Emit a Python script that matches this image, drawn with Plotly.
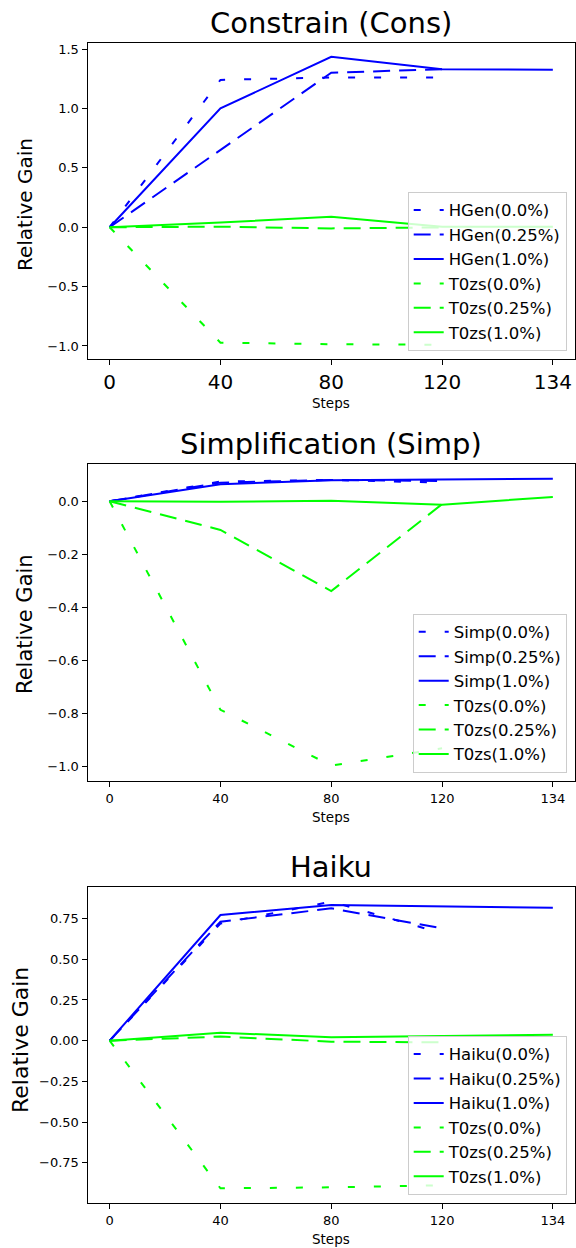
import plotly.graph_objects as go

W, H = 576, 1248
steps = ["0", "40", "80", "120", "134"]

# Panel 1: Constrain (Cons)
cons_hgen_00 = [0.0, 1.24, 1.26, 1.26]
cons_hgen_025 = [0.0, 0.65, 1.30, 1.33]
cons_hgen_10 = [0.0, 1.00, 1.435, 1.33, 1.325]
cons_t0_00 = [0.0, -0.972, -0.985, -0.99]
cons_t0_025 = [0.0, 0.004, -0.01, -0.002]
cons_t0_10 = [0.0, 0.04, 0.087, 0.004, 0.004]

# Panel 2: Simplification (Simp)
simp_simp_00 = [0.0, 0.074, 0.080, 0.070]
simp_simp_025 = [0.0, 0.070, 0.080, 0.076]
simp_simp_10 = [0.0, 0.064, 0.079, 0.083, 0.085]
simp_t0_00 = [0.0, -0.785, -0.995, -0.93]
simp_t0_025 = [0.0, -0.108, -0.338, -0.011]
simp_t0_10 = [0.0, -0.002, 0.002, -0.013, 0.016]

# Panel 3: Haiku
haiku_haiku_00 = [0.0, 0.72, 0.854, 0.66]
haiku_haiku_025 = [0.0, 0.731, 0.813, 0.69]
haiku_haiku_10 = [0.0, 0.772, 0.834, 0.824, 0.817]
haiku_t0_00 = [0.0, -0.907, -0.901, -0.888]
haiku_t0_025 = [0.0, 0.025, -0.006, -0.01]
haiku_t0_10 = [0.0, 0.049, 0.021, 0.029, 0.037]

pct_labels = ["0.0%", "0.25%", "1.0%"]

BLUE = "#0000ff"
GREEN = "#00ff00"
DASHES = ["7px,19px", "17px,9px", "solid"]
FONT = "DejaVu Sans"

panels = [
    dict(title="Constrain (Cons)", name="HGen",
         series=[cons_hgen_00, cons_hgen_025, cons_hgen_10],
         t0=[cons_t0_00, cons_t0_025, cons_t0_10],
         top=42.7, bot=359.3, yr=[-1.112, 1.553], dtick=0.5, fmt=".1f",
         xtickfont=20, steps_y=402.5, ylab_y=205, ylab_x=25, ylab_size=20),
    dict(title="Simplification (Simp)", name="Simp",
         series=[simp_simp_00, simp_simp_025, simp_simp_10],
         t0=[simp_t0_00, simp_t0_025, simp_t0_10],
         top=464.3, bot=781.0, yr=[-1.053, 0.139], dtick=0.2, fmt=".1f",
         xtickfont=13, steps_y=817.5, ylab_y=624, ylab_x=25, ylab_size=21),
    dict(title="Haiku", name="Haiku",
         series=[haiku_haiku_00, haiku_haiku_025, haiku_haiku_10],
         t0=[haiku_t0_00, haiku_t0_025, haiku_t0_10],
         top=886.7, bot=1203.3, yr=[-0.999, 0.946], dtick=0.25, fmt=".2f",
         xtickfont=13, steps_y=1239, ylab_y=1040, ylab_x=20, ylab_size=22),
]

XL, XR = 87.5, 575.0

fig = go.Figure()
annotations = []
layout = dict(width=W, height=H, margin=dict(l=0, r=0, t=0, b=0),
              paper_bgcolor="white", plot_bgcolor="white",
              font=dict(family=FONT, color="black"), showlegend=True)

for i, p in enumerate(panels):
    k = "" if i == 0 else str(i + 1)
    xa, ya = "x" + k, "y" + k
    leg = "legend" + k
    for j, vals in enumerate(p["series"]):
        fig.add_trace(go.Scatter(x=steps[:len(vals)], y=vals, mode="lines",
                                 name=f"{p['name']}({pct_labels[j]})",
                                 line=dict(color=BLUE, width=2, dash=DASHES[j]),
                                 xaxis=xa, yaxis=ya, legend=leg,
                                 legendgroup=f"g{i}b{j}"))
    for j, vals in enumerate(p["t0"]):
        fig.add_trace(go.Scatter(x=steps[:len(vals)], y=vals, mode="lines",
                                 name=f"T0zs({pct_labels[j]})",
                                 line=dict(color=GREEN, width=2, dash=DASHES[j]),
                                 xaxis=xa, yaxis=ya, legend=leg,
                                 legendgroup=f"g{i}g{j}"))
    y0 = 1 - p["bot"] / H
    y1 = 1 - p["top"] / H
    layout["xaxis" + k] = dict(domain=[XL / W, XR / W], anchor=ya, type="category",
                               categoryorder="array", categoryarray=steps,
                               range=[-0.2, 4.2], showline=True, mirror=True,
                               linecolor="black", linewidth=1, ticks="outside",
                               ticklen=5, tickcolor="black", showgrid=False,
                               zeroline=False,
                               tickfont=dict(size=p["xtickfont"], family=FONT),
                               fixedrange=True)
    layout["yaxis" + k] = dict(domain=[y0, y1], anchor=xa, range=p["yr"],
                               dtick=p["dtick"], tick0=0, tickformat=p["fmt"],
                               showline=True, mirror=True, linecolor="black",
                               linewidth=1, ticks="outside", ticklen=5,
                               tickcolor="black", showgrid=False, zeroline=False,
                               tickfont=dict(size=13, family=FONT), fixedrange=True)
    layout[leg] = dict(xanchor="right", yanchor="bottom",
                       x=566.7 / W, y=1 - (p["bot"] - 8.5) / H,
                       bgcolor="rgba(255,255,255,0.8)", bordercolor="#cccccc",
                       borderwidth=1, font=dict(size=16.5, family=FONT),
                       tracegroupgap=0, traceorder="grouped", itemwidth=30)
    cx = (XL + XR) / 2 / W
    annotations.append(dict(text=p["title"], x=cx, y=1 - (p["top"] - 20) / H,
                            xref="paper", yref="paper", showarrow=False,
                            xanchor="center", yanchor="middle",
                            font=dict(size=29, family=FONT)))
    annotations.append(dict(text="Steps", x=cx, y=1 - p["steps_y"] / H,
                            xref="paper", yref="paper", showarrow=False,
                            xanchor="center", yanchor="middle",
                            font=dict(size=13.5, family=FONT)))
    annotations.append(dict(text="Relative Gain", x=p["ylab_x"] / W,
                            y=1 - p["ylab_y"] / H, xref="paper", yref="paper",
                            showarrow=False, textangle=-90,
                            xanchor="center", yanchor="middle",
                            font=dict(size=p["ylab_size"], family=FONT)))

layout["annotations"] = annotations
fig.update_layout(**layout)
fig.write_html("out.html")
